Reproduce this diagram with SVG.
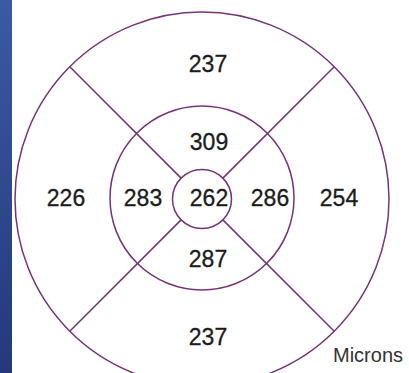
<svg xmlns="http://www.w3.org/2000/svg" width="409" height="373" viewBox="0 0 409 373">
  <defs>
    <linearGradient id="bar" x1="0" y1="0" x2="0" y2="1">
      <stop offset="0" stop-color="#3b5aa3"/>
      <stop offset="1" stop-color="#23397a"/>
    </linearGradient>
    <style>
      .ring { fill: none; stroke: #733573; stroke-width: 1.5; }
      .spoke { stroke: #733573; stroke-width: 1.5; }
      .val { font-family: "Liberation Sans", Arial, sans-serif; font-size: 23px; fill: #1c1c1c; stroke: #1c1c1c; stroke-width: 0.3; text-anchor: middle; }
      .unit { font-family: "Liberation Sans", Arial, sans-serif; font-size: 20px; fill: #333; }
    </style>
  </defs>
  <rect x="0" y="0" width="409" height="373" fill="#ffffff"/>
  <rect x="0" y="0" width="12" height="373" fill="url(#bar)"/>

  <g id="rings">
    <circle id="outer" class="ring" cx="202" cy="199" r="187"/>
    <circle id="middle" class="ring" cx="202" cy="198" r="92"/>
    <circle id="center" class="ring" cx="202" cy="199" r="29.5"/>
  </g>

  <g id="connectors">
    <line class="spoke" x1="69.8" y1="66.8" x2="181.1" y2="178.1"/>
    <line class="spoke" x1="334.2" y1="66.8" x2="222.9" y2="178.1"/>
    <line class="spoke" x1="69.8" y1="331.2" x2="181.1" y2="219.9"/>
    <line class="spoke" x1="334.2" y1="331.2" x2="222.9" y2="219.9"/>
  </g>

  <g id="outer-superior"><text class="val" x="208" y="72">237</text></g>
  <g id="inner-superior"><text class="val" x="209" y="150">309</text></g>
  <g id="outer-temporal"><text class="val" x="66" y="206">226</text></g>
  <g id="inner-temporal"><text class="val" x="143" y="206">283</text></g>
  <g id="central"><text class="val" x="209" y="206">262</text></g>
  <g id="inner-nasal"><text class="val" x="270" y="206">286</text></g>
  <g id="outer-nasal"><text class="val" x="339" y="206">254</text></g>
  <g id="inner-inferior"><text class="val" x="208" y="267">287</text></g>
  <g id="outer-inferior"><text class="val" x="208" y="345">237</text></g>
  <g id="units"><text class="unit" x="333" y="362">Microns</text></g>
</svg>
